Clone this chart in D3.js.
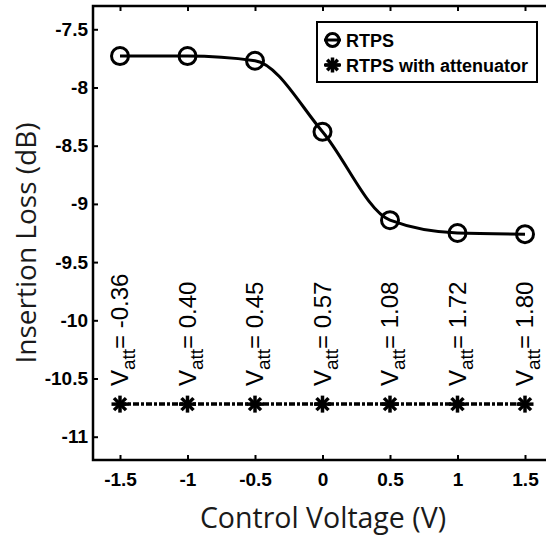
<!DOCTYPE html>
<html>
<head>
<meta charset="utf-8">
<script src="https://cdn.jsdelivr.net/npm/d3@7"></script>
<style>
  body { margin: 0; background: #fff; }
  svg { display: block; }
</style>
</head>
<body>
<div id="chart"></div>
<script>
// control voltage points
var xVals = [-1.5, -1, -0.5, 0, 0.5, 1, 1.5]
// RTPS insertion loss (dB)
var rtps = [-7.73, -7.73, -7.77, -8.38, -9.14, -9.25, -9.26]
// RTPS with attenuator (dB)
var rtpsAtt = [-10.72, -10.72, -10.72, -10.72, -10.72, -10.72, -10.72]
// attenuator voltage labels
var vattLabels = ["-0.36", "0.40", "0.45", "0.57", "1.08", "1.72", "1.80"]
var xTicks = [-1.5, -1, -0.5, 0, 0.5, 1, 1.5]
var yTicks = [-7.5, -8, -8.5, -9, -9.5, -10, -10.5, -11]

var width = 546, height = 538
var margin = {left: 93, top: 6, right: -6, bottom: 78}

var svg = d3.select("#chart").append("svg")
  .attr("width", width)
  .attr("height", height)

var x = d3.scaleLinear().domain([-1.7, 1.7]).range([margin.left, width - margin.right])
var y = d3.scaleLinear().domain([-11.2, -7.3]).range([height - margin.bottom, margin.top])

var tickFont = "Arial, 'Liberation Sans', sans-serif"
var titleFont = "'Open Sans', sans-serif"

// frame
svg.append("rect")
  .attr("x", x(-1.7)).attr("y", y(-7.3))
  .attr("width", x(1.7) - x(-1.7)).attr("height", y(-11.2) - y(-7.3))
  .attr("fill", "none").attr("stroke", "#000").attr("stroke-width", 2.5)

// bottom axis
var xAxis = svg.append("g")
  .attr("transform", "translate(0," + y(-11.2) + ")")
  .call(d3.axisBottom(x).tickValues(xTicks).tickSizeInner(-5).tickSizeOuter(0).tickPadding(13)
    .tickFormat(function (d) { return String(d) }))
xAxis.select(".domain").remove()
xAxis.selectAll("line").attr("stroke-width", 2)
xAxis.selectAll("text")
  .style("font-family", tickFont).style("font-weight", "bold").style("font-size", "19px")

// top ticks
svg.append("g")
  .attr("transform", "translate(0," + y(-7.3) + ")")
  .call(d3.axisTop(x).tickValues(xTicks).tickSizeInner(-5).tickSizeOuter(0).tickFormat(""))
  .call(function (g) { g.select(".domain").remove(); g.selectAll("line").attr("stroke-width", 2) })

// left axis
var yAxis = svg.append("g")
  .attr("transform", "translate(" + x(-1.7) + ",0)")
  .call(d3.axisLeft(y).tickValues(yTicks).tickSizeInner(-5).tickSizeOuter(0).tickPadding(5)
    .tickFormat(function (d) { return String(d) }))
yAxis.select(".domain").remove()
yAxis.selectAll("line").attr("stroke-width", 2)
yAxis.selectAll("text")
  .style("font-family", tickFont).style("font-weight", "bold").style("font-size", "19px")

// axis titles
svg.append("text")
  .attr("x", 323).attr("y", 528)
  .attr("text-anchor", "middle")
  .style("font-family", titleFont).style("font-size", "28.5px").style("fill", "#1a1a1a")
  .text("Control Voltage (V)")

svg.append("text")
  .attr("transform", "translate(36," + 243 + ") rotate(-90)")
  .attr("text-anchor", "middle")
  .style("font-family", titleFont).style("font-size", "28px").style("fill", "#1a1a1a")
  .text("Insertion Loss (dB)")

var rtpsData = xVals.map(function (d, i) { return {x: d, y: rtps[i]} })
var attData = xVals.map(function (d, i) { return {x: d, y: rtpsAtt[i], lab: vattLabels[i]} })

// RTPS smooth curve
var line = d3.line()
  .x(function (d) { return x(d.x) })
  .y(function (d) { return y(d.y) })
  .curve(d3.curveMonotoneX)

svg.append("path")
  .datum(rtpsData)
  .attr("d", line)
  .attr("fill", "none").attr("stroke", "#000").attr("stroke-width", 3)

svg.selectAll(".circ")
  .data(rtpsData)
  .enter()
  .append("circle")
    .attr("class", "circ")
    .attr("cx", function (d) { return x(d.x) })
    .attr("cy", function (d) { return y(d.y) })
    .attr("r", 8.5)
    .attr("fill", "none").attr("stroke", "#000").attr("stroke-width", 3)

// attenuator line
svg.append("path")
  .datum(attData)
  .attr("d", d3.line().x(function (d) { return x(d.x) }).y(function (d) { return y(d.y) }))
  .attr("fill", "none").attr("stroke", "#000").attr("stroke-width", 3.5)
  .attr("stroke-dasharray", "6,2,3,2")

function asterisk(g, cx, cy, r) {
  for (var k = 0; k < 4; k++) {
    var a = k * Math.PI / 4
    g.append("line")
      .attr("x1", cx - r * Math.cos(a)).attr("y1", cy - r * Math.sin(a))
      .attr("x2", cx + r * Math.cos(a)).attr("y2", cy + r * Math.sin(a))
      .attr("stroke", "#000").attr("stroke-width", 3.5)
  }
}

var stars = svg.append("g")
attData.forEach(function (d) { asterisk(stars, x(d.x), y(d.y), 8.5) })

// V_att labels
attData.forEach(function (d) {
  var t = svg.append("text")
    .attr("transform", "translate(" + (x(d.x) + 8) + "," + (y(d.y) - 18) + ") rotate(-90)")
    .style("font-family", tickFont).style("font-size", "24px")
  t.append("tspan").text("V")
  t.append("tspan").attr("dy", 7).style("font-size", "19px").text("att")
  t.append("tspan").attr("dy", -7).text("= " + d.lab)
})

// legend
var lg = svg.append("g")
lg.append("rect")
  .attr("x", 317).attr("y", 22).attr("width", 220).attr("height", 60)
  .attr("fill", "#fff").attr("stroke", "#000").attr("stroke-width", 2)
lg.append("line").attr("x1", 324).attr("x2", 341).attr("y1", 40).attr("y2", 40)
  .attr("stroke", "#000").attr("stroke-width", 3)
lg.append("circle").attr("cx", 332.5).attr("cy", 40).attr("r", 6.5)
  .attr("fill", "none").attr("stroke", "#000").attr("stroke-width", 3)
lg.append("line").attr("x1", 324).attr("x2", 341).attr("y1", 65).attr("y2", 65)
  .attr("stroke", "#000").attr("stroke-width", 3)
asterisk(lg, 332.5, 65, 7.5)
lg.append("text").attr("x", 346).attr("y", 47)
  .style("font-family", tickFont).style("font-weight", "bold").style("font-size", "18px")
  .text("RTPS")
lg.append("text").attr("x", 346).attr("y", 72)
  .style("font-family", tickFont).style("font-weight", "bold").style("font-size", "18px")
  .text("RTPS with attenuator")
</script>
</body>
</html>
